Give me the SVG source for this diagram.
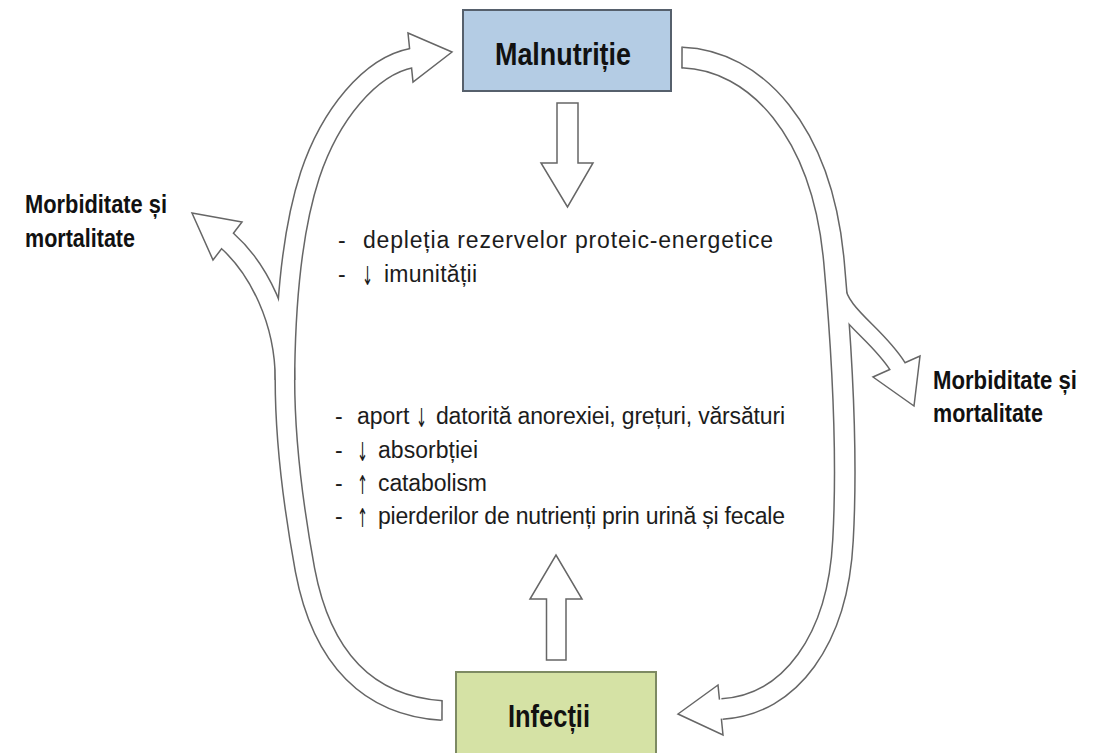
<svg xmlns="http://www.w3.org/2000/svg" width="1094" height="753" viewBox="0 0 1094 753">
  <style>
    .bg { fill: #ffffff; }
    .box-mal { fill: #b4cce4; stroke: #56606c; stroke-width: 2; }
    .box-inf { fill: #d5e2a5; stroke: #7d8a63; stroke-width: 2; }
    .title { font-family: "Liberation Sans", Arial, sans-serif; font-weight: bold; font-size: 31px; fill: #111111; text-anchor: middle; }
    .label { font-family: "Liberation Sans", Arial, sans-serif; font-weight: bold; font-size: 25px; fill: #111111; }
    .body { font-family: "Liberation Sans", Arial, sans-serif; font-size: 23px; fill: #1c1c1c; }
    .sym { font-family: "DejaVu Sans", sans-serif; font-size: 26px; }
    .edge { fill: none; stroke: #666666; stroke-linecap: butt; stroke-linejoin: round; }
    .core { fill: none; stroke: #ffffff; stroke-linecap: butt; stroke-linejoin: round; }
    .head { fill: #ffffff; stroke: #666666; stroke-width: 1.5; stroke-linejoin: miter; }
    .cap { stroke: #666666; stroke-width: 1.5; }
  </style>

  <rect class="bg" x="0" y="0" width="1094" height="753"/>

  <!-- connectors: hollow block arrows -->
  <g id="connectors">
    <!-- left loop: Infecții -> Malnutriție, with branch to morbidity -->
    <g id="arrow-left">
      <path class="edge" stroke-width="21" d="M 442,710.5 C 370,706 322,660 305,570 C 294,510 284,440 285,370 C 286,300 292,230 310,175 C 330,115 370,66 412,58"/>
      <path class="edge" stroke-width="21" d="M 285,380 C 285,320 258,268 227,240.5"/>
      <polygon class="head" points="408,33 452,52 413,82"/>
      <polygon class="head" points="242,222 192,213 213,260"/>
      <path class="core" stroke-width="18" d="M 442,710.5 C 370,706 322,660 305,570 C 294,510 284,440 285,370 C 286,300 292,230 310,175 C 330,115 370,66 412,58 L 418,57"/>
      <path class="core" stroke-width="18" d="M 285,380 C 285,320 258,268 227,240.5 L 223,237"/>
      <line class="cap" x1="442" y1="700.5" x2="442" y2="720.5"/>
    </g>

    <!-- right loop: Malnutriție -> Infecții, with branch to morbidity -->
    <g id="arrow-right">
      <path class="edge" stroke-width="22" d="M 682,57.5 C 755,60 822,130 834,262 C 841,340 848,450 843,540 C 838,640 790,705 722,709"/>
      <path class="edge" stroke-width="18" d="M 836,285 C 840,315 876,332 898,367"/>
      <polygon class="head" points="718,685 678,714 723,735"/>
      <polygon class="head" points="920,356 914,406 873,377"/>
      <path class="core" stroke-width="19" d="M 682,57.5 C 755,60 822,130 834,262 C 841,340 848,450 843,540 C 838,640 790,705 722,709 L 716,709.5"/>
      <path class="core" stroke-width="15" d="M 836,285 C 840,315 876,332 898,367 L 901,374"/>
      <line class="cap" x1="682" y1="46.5" x2="682" y2="68.5"/>
    </g>

    <!-- straight arrow: Malnutriție -> effects -->
    <polygon id="arrow-down" class="head" points="557,103 578,103 578,163 593,163 567.5,207 541,163 557,163"/>

    <!-- straight arrow: Infecții -> effects -->
    <polygon id="arrow-up" class="head" points="546.5,660 566,660 566,599 582,599 556,555 530,599 546.5,599"/>
  </g>

  <!-- node: Malnutriție -->
  <g id="node-malnutritie">
    <rect class="box-mal" x="463" y="10" width="208" height="81"/>
    <text class="title" x="563" y="65" textLength="136" lengthAdjust="spacingAndGlyphs">Malnutriție</text>
  </g>

  <!-- node: Infecții -->
  <g id="node-infectii">
    <rect class="box-inf" x="456" y="672" width="200" height="90"/>
    <text class="title" x="549" y="727" textLength="82" lengthAdjust="spacingAndGlyphs">Infecții</text>
  </g>

  <!-- node: effects of malnutrition -->
  <g id="node-effects-malnutrition">
    <text class="body" x="338" y="248">-</text>
    <text class="body" x="363" y="248" textLength="410">depleția rezervelor proteic-energetice</text>
    <text class="body" x="338" y="282">-</text>
    <text class="body" y="282"><tspan class="sym" x="362" y="285" textLength="11" lengthAdjust="spacingAndGlyphs">↓</tspan><tspan x="384" y="282" textLength="93">imunității</tspan></text>
  </g>

  <!-- node: effects of infection -->
  <g id="node-effects-infection">
    <text class="body" x="335" y="424">-</text>
    <text class="body" y="424"><tspan x="357" y="424">aport</tspan><tspan class="sym" x="416" y="427" textLength="11" lengthAdjust="spacingAndGlyphs">↓</tspan><tspan x="436" y="424" textLength="349">datorită anorexiei, grețuri, vărsături</tspan></text>
    <text class="body" x="335" y="458">-</text>
    <text class="body" y="458"><tspan class="sym" x="357" y="461" textLength="11" lengthAdjust="spacingAndGlyphs">↓</tspan><tspan x="378" y="458" textLength="100">absorbției</tspan></text>
    <text class="body" x="335" y="491">-</text>
    <text class="body" y="491"><tspan class="sym" x="357" y="494" textLength="11" lengthAdjust="spacingAndGlyphs">↑</tspan><tspan x="378" y="491" textLength="109">catabolism</tspan></text>
    <text class="body" x="335" y="524">-</text>
    <text class="body" y="524"><tspan class="sym" x="357" y="527" textLength="11" lengthAdjust="spacingAndGlyphs">↑</tspan><tspan x="378" y="524" textLength="407">pierderilor de nutrienți prin urină și fecale</tspan></text>
  </g>

  <!-- node: morbidity and mortality (left) -->
  <g id="node-morbidity-left">
    <text class="label" x="25" y="213" textLength="142" lengthAdjust="spacingAndGlyphs">Morbiditate și</text>
    <text class="label" x="25" y="247" textLength="110" lengthAdjust="spacingAndGlyphs">mortalitate</text>
  </g>

  <!-- node: morbidity and mortality (right) -->
  <g id="node-morbidity-right">
    <text class="label" x="933" y="389" textLength="144" lengthAdjust="spacingAndGlyphs">Morbiditate și</text>
    <text class="label" x="933" y="422" textLength="110" lengthAdjust="spacingAndGlyphs">mortalitate</text>
  </g>
</svg>
